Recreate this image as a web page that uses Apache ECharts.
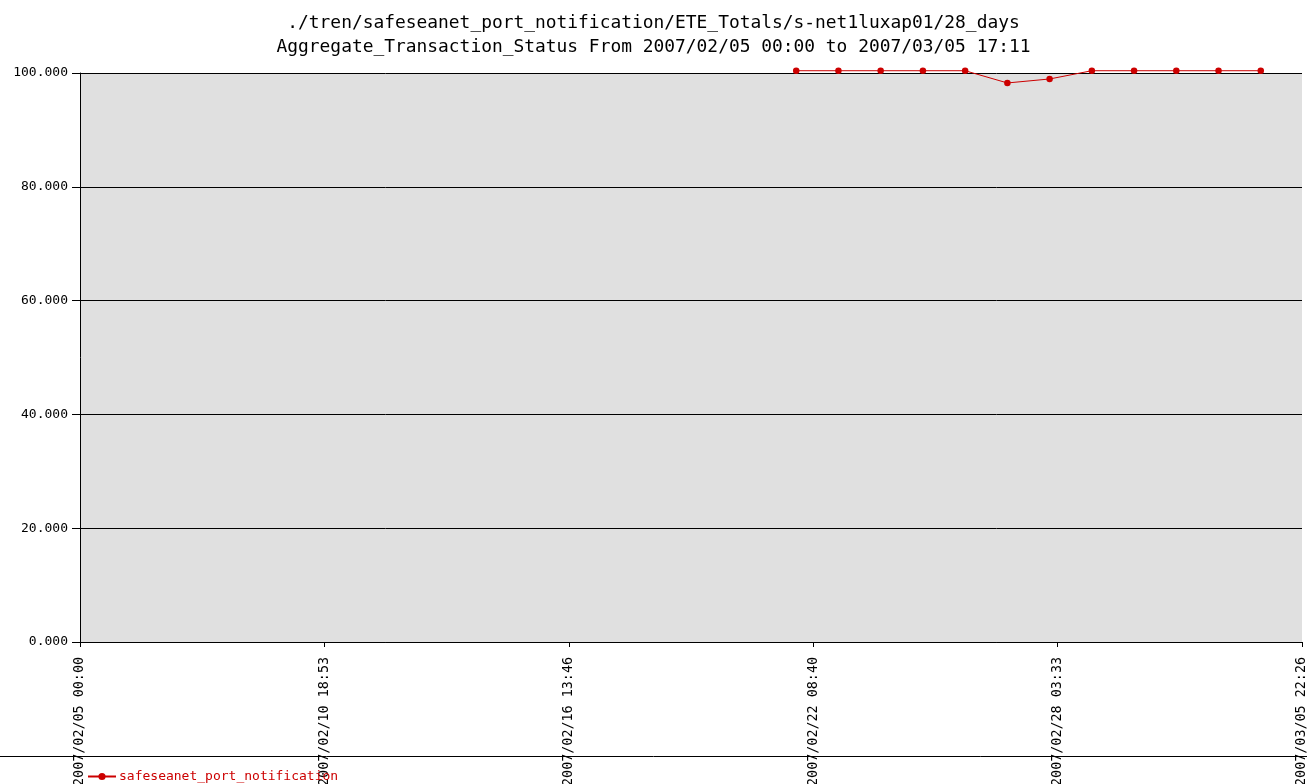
<!DOCTYPE html>
<html>
<head>
<meta charset="utf-8">
<script src="https://cdn.jsdelivr.net/npm/echarts@6/dist/echarts.min.js"></script>
<style>
html,body{margin:0;padding:0;background:#fff;}
#chart{width:1307px;height:784px;}
</style>
</head>
<body>
<div id="chart"></div>
<script>
const titleLine1 = './tren/safeseanet_port_notification/ETE_Totals/s-net1luxap01/28_days';
const titleLine2 = 'Aggregate_Transaction_Status From 2007/02/05 00:00 to 2007/03/05 17:11';
const seriesName = 'safeseanet_port_notification';
const axisStart = '2007-02-05T00:00';
const axisEnd = '2007-03-05T22:26';
const xTickCount = 5;
const pointTimes = [
  '2007-02-21T23:00','2007-02-22T23:00','2007-02-23T23:00','2007-02-24T23:00',
  '2007-02-25T23:00','2007-02-26T23:00','2007-02-27T23:00','2007-02-28T23:00',
  '2007-03-01T23:00','2007-03-02T23:00','2007-03-03T23:00','2007-03-04T23:00'
];
const pointValues = [100.4,100.4,100.4,100.4,100.4,98.25,98.95,100.4,100.4,100.4,100.4,100.4];
const yTicks = [0,20,40,60,80,100];

function toMs(s){ return Date.parse(s + ':00Z'); }
const startMs = toMs(axisStart);
const endMin = (toMs(axisEnd) - startMs) / 60000;
const xInterval = endMin / xTickCount;
const seriesData = pointTimes.map((t,i)=>[(toMs(t)-startMs)/60000, pointValues[i]]);
function pad(n){ return (n<10?'0':'') + n; }
function fmtX(v){
  const d = new Date(startMs + Math.round(v)*60000);
  return d.getUTCFullYear() + '/' + pad(d.getUTCMonth()+1) + '/' + pad(d.getUTCDate()) +
    ' ' + pad(d.getUTCHours()) + ':' + pad(d.getUTCMinutes());
}
const mono = 'DejaVu Sans Mono';
const chart = echarts.init(document.getElementById('chart'));
chart.setOption({
  animation: false,
  backgroundColor: '#ffffff',
  title: {
    text: titleLine1 + '\n' + titleLine2,
    left: 'center',
    top: 6,
    textStyle: { fontFamily: mono, fontSize: 17.9, fontWeight: 'normal', color: '#000', lineHeight: 24 }
  },
  legend: {
    left: 82, top: 765,
    itemWidth: 28, itemHeight: 9, itemGap: 4,
    data: [seriesName],
    textStyle: { fontFamily: mono, fontSize: 13, color: '#cc0000', padding: [0,0,0,-2] }
  },
  grid: { left: 80, right: 5, top: 73, bottom: 142, show: true, backgroundColor: '#e0e0e0', borderWidth: 0,
    containLabel: false, outerBoundsMode: 'none' },
  xAxis: {
    type: 'value', min: 0, max: endMin, interval: xInterval,
    axisLine: { show: true, lineStyle: { color: '#000', width: 1 } },
    axisTick: { show: true, length: 5, lineStyle: { color: '#000' } },
    splitLine: { show: false },
    axisLabel: { rotate: 90, margin: 15, showMinLabel: true, showMaxLabel: true, formatter: fmtX,
      fontFamily: mono, fontSize: 13.4, color: '#000' }
  },
  yAxis: {
    type: 'value', min: yTicks[0], max: yTicks[yTicks.length-1], interval: yTicks[1]-yTicks[0],
    axisLine: { show: true, lineStyle: { color: '#000', width: 1 } },
    axisTick: { show: true, length: 8, lineStyle: { color: '#000' } },
    splitLine: { show: true, lineStyle: { color: '#000', width: 1 } },
    axisLabel: { margin: 12, formatter: v => v.toFixed(3), fontFamily: mono, fontSize: 13, color: '#000' }
  },
  graphic: [{ type: 'line', shape: { x1: 0, y1: 756.5, x2: 1307, y2: 756.5 }, style: { stroke: '#000', lineWidth: 1 }, z: 100 }],
  series: [{
    name: seriesName, type: 'line', data: seriesData, clip: false,
    symbol: 'circle', symbolSize: 6.5, showSymbol: true,
    lineStyle: { color: '#cc0000', width: 1 },
    itemStyle: { color: '#cc0000' }
  }]
});
</script>
</body>
</html>
